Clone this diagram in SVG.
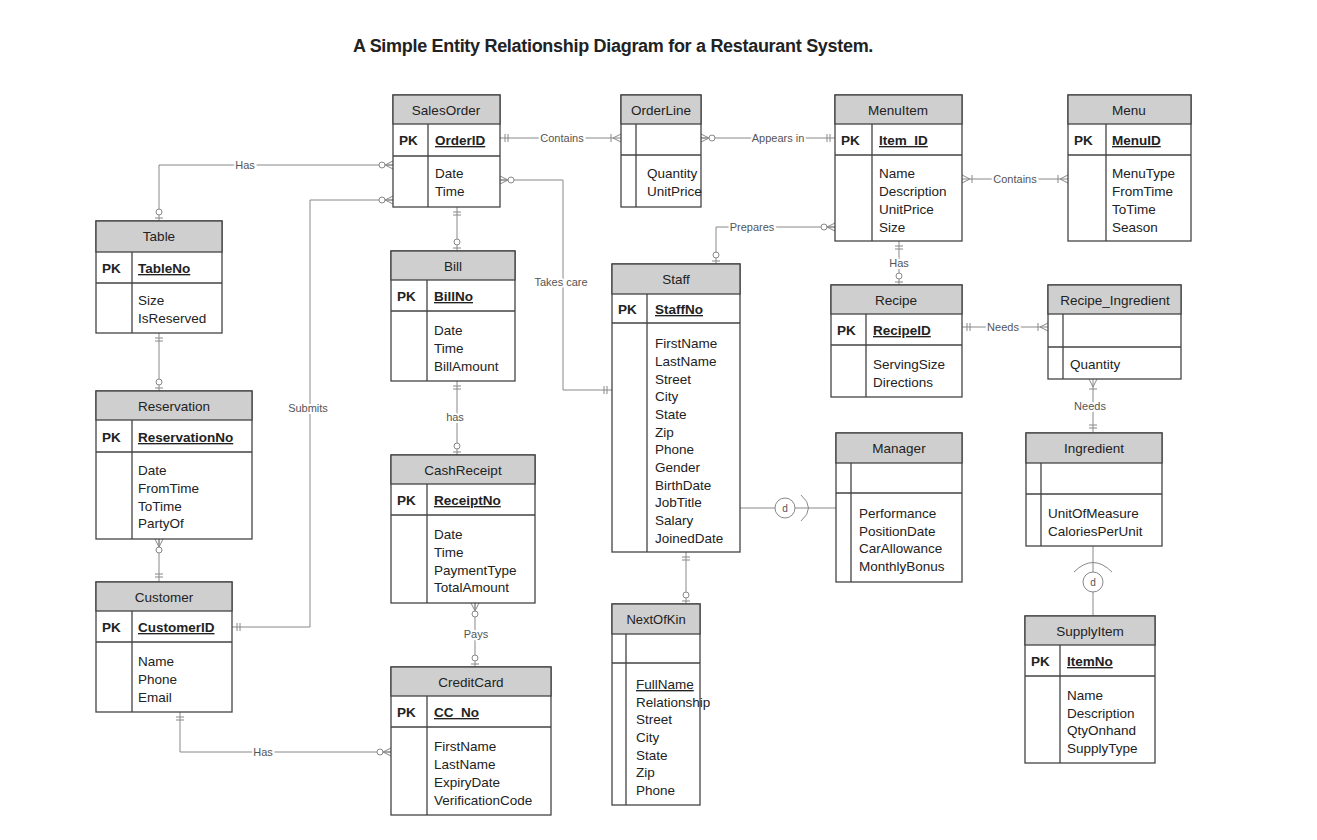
<svg xmlns="http://www.w3.org/2000/svg" xmlns:xlink="http://www.w3.org/1999/xlink" width="1317" height="840" viewBox="0 0 1317 840">
<style>
.box{fill:#fff;stroke:#444;stroke-width:1.3}
.hd{fill:#cfcfcf;stroke:#444;stroke-width:1.3}
.ln{stroke:#444;stroke-width:1.3}
text{font-family:"Liberation Sans",Arial,sans-serif;fill:#222}
.t{font-size:13.5px;text-anchor:middle}
.a{font-size:13.5px}
.pk{font-size:13.5px;font-weight:bold}
.k{font-size:13.5px;font-weight:bold;text-decoration:underline}
.c{fill:none;stroke:#888;stroke-width:1}
.lb{font-size:11px;fill:#555;text-anchor:middle;stroke:#fff;stroke-width:4;paint-order:stroke}
.m{fill:none;stroke:#888;stroke-width:1}
</style>
<defs>
<g id="zm" class="m"><path d="M-8,0 L0,-4 M-8,0 L0,4 M-8,0H0"/><circle cx="-11" cy="0" r="3" fill="#fff"/></g>
<g id="oo" class="m"><path d="M-5,-4V4 M-8,-4V4"/></g>
<g id="zo" class="m"><path d="M-3,-4V4"/><circle cx="-9" cy="0" r="3" fill="#fff"/></g>
<g id="om" class="m"><path d="M-8,0 L0,-4 M-8,0 L0,4 M-10,-4V4"/></g>
</defs>
<rect width="1317" height="840" fill="#fff"/>
<text x="613" y="52" style="font-size:18px;font-weight:bold;text-anchor:middle;letter-spacing:-0.3px">A Simple Entity Relationship Diagram for a Restaurant System.</text>

<g id="connectors">
<path class="c" d="M393,165H159V221"/><text class="lb" x="245" y="169">Has</text>
<path class="c" d="M232,627H310V200H393"/><text class="lb" x="308" y="412">Submits</text>
<path class="c" d="M500,138H621"/><text class="lb" x="562" y="142">Contains</text>
<path class="c" d="M701,138H835"/><text class="lb" x="778" y="142">Appears in</text>
<path class="c" d="M962,179H1068"/><text class="lb" x="1015" y="183">Contains</text>
<path class="c" d="M835,227H716V264"/><text class="lb" x="752" y="231">Prepares</text>
<path class="c" d="M500,180H563V390H612"/><text class="lb" x="561" y="286">Takes care</text>
<path class="c" d="M457,207V251"/>
<path class="c" d="M457,381V455"/><text class="lb" x="455" y="421">has</text>
<path class="c" d="M475,603V667"/><text class="lb" x="476" y="638">Pays</text>
<path class="c" d="M159,333V391"/>
<path class="c" d="M159,539V582"/>
<path class="c" d="M180,712V752H391"/><text class="lb" x="263" y="756">Has</text>
<path class="c" d="M686,552V604"/>
<path class="c" d="M899,241V285"/><text class="lb" x="899" y="267">Has</text>
<path class="c" d="M962,327H1048"/><text class="lb" x="1003" y="331">Needs</text>
<path class="c" d="M1093,379V433"/><text class="lb" x="1090" y="410">Needs</text>
<path class="c" d="M740,508H836"/>
<circle cx="785" cy="508" r="10" fill="#fff" stroke="#888"/><text x="785" y="512" style="font-size:10px;text-anchor:middle;fill:#555">d</text>
<path class="c" d="M801,495 Q816,508 801,521"/>
<path class="c" d="M1093,546V616"/>
<circle cx="1093" cy="582" r="10" fill="#fff" stroke="#888"/><text x="1093" y="586" style="font-size:10px;text-anchor:middle;fill:#555">d</text>
<path class="c" d="M1074,572 Q1093,553 1112,572"/>
<use xlink:href="#zm" transform="translate(393,165)"/>
<use xlink:href="#zo" transform="translate(159,221) rotate(90)"/>
<use xlink:href="#zm" transform="translate(393,200)"/>
<use xlink:href="#oo" transform="translate(232,627) rotate(180)"/>
<use xlink:href="#oo" transform="translate(500,138) rotate(180)"/>
<use xlink:href="#om" transform="translate(621,138)"/>
<use xlink:href="#zm" transform="translate(701,138) rotate(180)"/>
<use xlink:href="#oo" transform="translate(835,138)"/>
<use xlink:href="#om" transform="translate(962,179) rotate(180)"/>
<use xlink:href="#om" transform="translate(1068,179)"/>
<use xlink:href="#zm" transform="translate(835,227)"/>
<use xlink:href="#zo" transform="translate(716,264) rotate(90)"/>
<use xlink:href="#zm" transform="translate(500,180) rotate(180)"/>
<use xlink:href="#oo" transform="translate(612,390)"/>
<use xlink:href="#oo" transform="translate(457,207) rotate(-90)"/>
<use xlink:href="#zo" transform="translate(457,251) rotate(90)"/>
<use xlink:href="#oo" transform="translate(457,381) rotate(-90)"/>
<use xlink:href="#zo" transform="translate(457,455) rotate(90)"/>
<use xlink:href="#zm" transform="translate(475,603) rotate(-90)"/>
<use xlink:href="#zo" transform="translate(475,667) rotate(90)"/>
<use xlink:href="#oo" transform="translate(159,333) rotate(-90)"/>
<use xlink:href="#zo" transform="translate(159,391) rotate(90)"/>
<use xlink:href="#zm" transform="translate(159,539) rotate(-90)"/>
<use xlink:href="#oo" transform="translate(159,582) rotate(90)"/>
<use xlink:href="#oo" transform="translate(180,712) rotate(-90)"/>
<use xlink:href="#zm" transform="translate(391,752)"/>
<use xlink:href="#oo" transform="translate(686,552) rotate(-90)"/>
<use xlink:href="#zo" transform="translate(686,604) rotate(90)"/>
<use xlink:href="#oo" transform="translate(899,241) rotate(-90)"/>
<use xlink:href="#zo" transform="translate(899,285) rotate(90)"/>
<use xlink:href="#oo" transform="translate(962,327) rotate(180)"/>
<use xlink:href="#om" transform="translate(1048,327)"/>
<use xlink:href="#om" transform="translate(1093,379) rotate(-90)"/>
<use xlink:href="#oo" transform="translate(1093,433) rotate(90)"/>
</g>

<g id="SalesOrder">
<rect class="box" x="393" y="95" width="107" height="112"/><rect class="hd" x="393" y="95" width="107" height="29"/>
<path class="ln" d="M393,156H500M428,124V207"/>
<text class="t" x="446" y="115">SalesOrder</text><text class="pk" x="399" y="145">PK</text><text class="k" x="435" y="145">OrderID</text>
<text class="a" x="435" y="178">Date</text><text class="a" x="435" y="196">Time</text>
</g>
<g id="OrderLine">
<rect class="box" x="621" y="95" width="80" height="112"/><rect class="hd" x="621" y="95" width="80" height="29"/>
<path class="ln" d="M621,155H701M636,124V207"/>
<text class="t" x="661" y="115">OrderLine</text>
<text class="a" x="647" y="178">Quantity</text><text class="a" x="647" y="196">UnitPrice</text>
</g>
<g id="MenuItem">
<rect class="box" x="835" y="95" width="127" height="146"/><rect class="hd" x="835" y="95" width="127" height="29"/>
<path class="ln" d="M835,155H962M872,124V241"/>
<text class="t" x="898" y="115">MenuItem</text><text class="pk" x="841" y="145">PK</text><text class="k" x="879" y="145">Item_ID</text>
<text class="a" x="879" y="178">Name</text><text class="a" x="879" y="196">Description</text><text class="a" x="879" y="214">UnitPrice</text><text class="a" x="879" y="232">Size</text>
</g>
<g id="Menu">
<rect class="box" x="1068" y="95" width="123" height="146"/><rect class="hd" x="1068" y="95" width="123" height="29"/>
<path class="ln" d="M1068,155H1191M1106,124V241"/>
<text class="t" x="1129" y="115">Menu</text><text class="pk" x="1074" y="145">PK</text><text class="k" x="1112" y="145">MenuID</text>
<text class="a" x="1112" y="178">MenuType</text><text class="a" x="1112" y="196">FromTime</text><text class="a" x="1112" y="214">ToTime</text><text class="a" x="1112" y="232">Season</text>
</g>
<g id="Table">
<rect class="box" x="96" y="221" width="126" height="112"/><rect class="hd" x="96" y="221" width="126" height="31"/>
<path class="ln" d="M96,283H222M132,252V333"/>
<text class="t" x="159" y="241">Table</text><text class="pk" x="102" y="273">PK</text><text class="k" x="138" y="273">TableNo</text>
<text class="a" x="138" y="305">Size</text><text class="a" x="138" y="323">IsReserved</text>
</g>
<g id="Bill">
<rect class="box" x="391" y="251" width="124" height="130"/><rect class="hd" x="391" y="251" width="124" height="29"/>
<path class="ln" d="M391,311H515M427,280V381"/>
<text class="t" x="453" y="271">Bill</text><text class="pk" x="397" y="301">PK</text><text class="k" x="434" y="301">BillNo</text>
<text class="a" x="434" y="335">Date</text><text class="a" x="434" y="353">Time</text><text class="a" x="434" y="371">BillAmount</text>
</g>
<g id="Staff">
<rect class="box" x="612" y="264" width="128" height="288"/><rect class="hd" x="612" y="264" width="128" height="30"/>
<path class="ln" d="M612,323H740M647,294V552"/>
<text class="t" x="676" y="284">Staff</text><text class="pk" x="618" y="314">PK</text><text class="k" x="655" y="314">StaffNo</text>
<text class="a" x="655" y="348">FirstName</text><text class="a" x="655" y="366">LastName</text><text class="a" x="655" y="384">Street</text><text class="a" x="655" y="401">City</text><text class="a" x="655" y="419">State</text><text class="a" x="655" y="437">Zip</text><text class="a" x="655" y="454">Phone</text><text class="a" x="655" y="472">Gender</text><text class="a" x="655" y="490">BirthDate</text><text class="a" x="655" y="507">JobTitle</text><text class="a" x="655" y="525">Salary</text><text class="a" x="655" y="543">JoinedDate</text>
</g>
<g id="Recipe">
<rect class="box" x="831" y="285" width="131" height="112"/><rect class="hd" x="831" y="285" width="131" height="29"/>
<path class="ln" d="M831,345H962M866,314V397"/>
<text class="t" x="896" y="305">Recipe</text><text class="pk" x="837" y="335">PK</text><text class="k" x="873" y="335">RecipeID</text>
<text class="a" x="873" y="369">ServingSize</text><text class="a" x="873" y="387">Directions</text>
</g>
<g id="Recipe_Ingredient">
<rect class="box" x="1048" y="285" width="133" height="94"/><rect class="hd" x="1048" y="285" width="133" height="29"/>
<path class="ln" d="M1048,347H1181M1063,314V379"/>
<text class="t" x="1115" y="305">Recipe_Ingredient</text>
<text class="a" x="1070" y="369">Quantity</text>
</g>
<g id="Reservation">
<rect class="box" x="96" y="391" width="156" height="148"/><rect class="hd" x="96" y="391" width="156" height="29"/>
<path class="ln" d="M96,452H252M132,420V539"/>
<text class="t" x="174" y="411">Reservation</text><text class="pk" x="102" y="442">PK</text><text class="k" x="138" y="442">ReservationNo</text>
<text class="a" x="138" y="475">Date</text><text class="a" x="138" y="493">FromTime</text><text class="a" x="138" y="511">ToTime</text><text class="a" x="138" y="528">PartyOf</text>
</g>
<g id="CashReceipt">
<rect class="box" x="391" y="455" width="144" height="148"/><rect class="hd" x="391" y="455" width="144" height="29"/>
<path class="ln" d="M391,515H535M427,484V603"/>
<text class="t" x="463" y="475">CashReceipt</text><text class="pk" x="397" y="505">PK</text><text class="k" x="434" y="505">ReceiptNo</text>
<text class="a" x="434" y="539">Date</text><text class="a" x="434" y="557">Time</text><text class="a" x="434" y="575">PaymentType</text><text class="a" x="434" y="592">TotalAmount</text>
</g>
<g id="Manager">
<rect class="box" x="836" y="433" width="126" height="149"/><rect class="hd" x="836" y="433" width="126" height="30"/>
<path class="ln" d="M836,493H962M851,463V582"/>
<text class="t" x="899" y="453">Manager</text>
<text class="a" x="859" y="518">Performance</text><text class="a" x="859" y="536">PositionDate</text><text class="a" x="859" y="553">CarAllowance</text><text class="a" x="859" y="571">MonthlyBonus</text>
</g>
<g id="Ingredient">
<rect class="box" x="1026" y="433" width="136" height="113"/><rect class="hd" x="1026" y="433" width="136" height="30"/>
<path class="ln" d="M1026,494H1162M1041,463V546"/>
<text class="t" x="1094" y="453">Ingredient</text>
<text class="a" x="1048" y="518">UnitOfMeasure</text><text class="a" x="1048" y="536">CaloriesPerUnit</text>
</g>
<g id="Customer">
<rect class="box" x="96" y="582" width="136" height="130"/><rect class="hd" x="96" y="582" width="136" height="29"/>
<path class="ln" d="M96,642H232M132,611V712"/>
<text class="t" x="164" y="602">Customer</text><text class="pk" x="102" y="632">PK</text><text class="k" x="138" y="632">CustomerID</text>
<text class="a" x="138" y="666">Name</text><text class="a" x="138" y="684">Phone</text><text class="a" x="138" y="702">Email</text>
</g>
<g id="NextOfKin">
<rect class="box" x="612" y="604" width="88" height="201"/><rect class="hd" x="612" y="604" width="88" height="30"/>
<path class="ln" d="M612,663H700M626,634V805"/>
<text class="t" x="656" y="624" style="font-size:13px">NextOfKin</text>
<text class="a" x="636" y="689" text-decoration="underline">FullName </text><text class="a" x="636" y="707">Relationship</text><text class="a" x="636" y="724">Street</text><text class="a" x="636" y="742">City</text><text class="a" x="636" y="760">State</text><text class="a" x="636" y="777">Zip</text><text class="a" x="636" y="795">Phone</text>
</g>
<g id="SupplyItem">
<rect class="box" x="1025" y="616" width="130" height="147"/><rect class="hd" x="1025" y="616" width="130" height="29"/>
<path class="ln" d="M1025,676H1155M1060,645V763"/>
<text class="t" x="1090" y="636">SupplyItem</text><text class="pk" x="1031" y="666">PK</text><text class="k" x="1067" y="666">ItemNo</text>
<text class="a" x="1067" y="700">Name</text><text class="a" x="1067" y="718">Description</text><text class="a" x="1067" y="735">QtyOnhand</text><text class="a" x="1067" y="753">SupplyType</text>
</g>
<g id="CreditCard">
<rect class="box" x="391" y="667" width="160" height="148"/><rect class="hd" x="391" y="667" width="160" height="29"/>
<path class="ln" d="M391,727H551M427,696V815"/>
<text class="t" x="471" y="687">CreditCard</text><text class="pk" x="397" y="717">PK</text><text class="k" x="434" y="717">CC_No</text>
<text class="a" x="434" y="751">FirstName</text><text class="a" x="434" y="769">LastName</text><text class="a" x="434" y="787">ExpiryDate</text><text class="a" x="434" y="805">VerificationCode</text>
</g>
</svg>
